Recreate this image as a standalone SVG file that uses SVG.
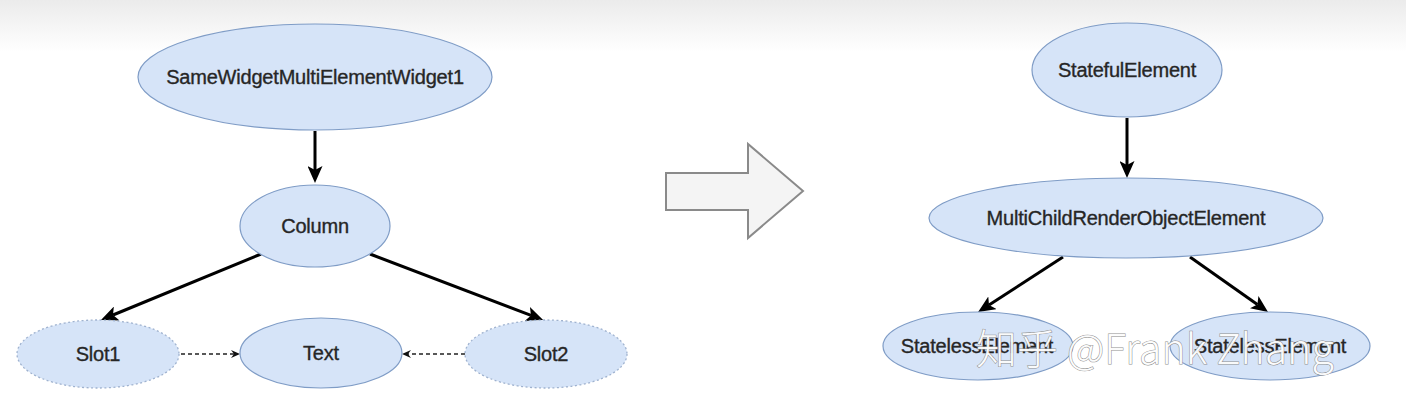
<svg xmlns="http://www.w3.org/2000/svg" width="1406" height="410" viewBox="0 0 1406 410">
  <defs>
    <linearGradient id="topfade" x1="0" y1="0" x2="0" y2="1">
      <stop offset="0" stop-color="#ebebeb"/>
      <stop offset="1" stop-color="#ffffff"/>
    </linearGradient>
    <marker id="ah" viewBox="0 0 17 15" refX="4" refY="7.5" markerWidth="17" markerHeight="15" markerUnits="userSpaceOnUse" orient="auto">
      <path d="M0,0 L17,7.5 L0,15 L4,7.5 Z" fill="#000"/>
    </marker>
    <marker id="ahs" viewBox="0 0 9 8" refX="3" refY="4" markerWidth="9" markerHeight="8" markerUnits="userSpaceOnUse" orient="auto">
      <path d="M0,0 L9,4 L0,8 L3,4 Z" fill="#111"/>
    </marker>
  </defs>
  <style>
    .node { fill: #d6e4f8; stroke: #7f9cc6; stroke-width: 1.2; }
    .slot { fill: #d6e4f8; stroke: #9fb2cf; stroke-width: 1.3; stroke-dasharray: 2 2.5; }
    .lbl { font-family: "Liberation Sans", Arial, sans-serif; font-size: 20px; fill: #262626; stroke: #262626; stroke-width: 0.35; text-anchor: middle; letter-spacing: -0.2px; }
    .edge { stroke: #000; stroke-width: 3; fill: none; marker-end: url(#ah); }
    .dedge { stroke: #222; stroke-width: 1.3; fill: none; stroke-dasharray: 4 3; marker-end: url(#ahs); }
    .wm { font-family: "Noto Sans CJK SC", "Noto Sans", sans-serif; font-size: 41px; font-weight: 300; fill: #ffffff; fill-opacity: 0.95; stroke: #8f8f8f; stroke-width: 1; paint-order: stroke; }
  </style>

  <rect x="0" y="0" width="1406" height="410" fill="#ffffff"/>
  <rect x="0" y="0" width="1406" height="52" fill="url(#topfade)"/>

  <g id="connectors">
    <line class="edge" x1="315" y1="131" x2="315" y2="170"/>
    <line class="edge" x1="261" y1="254" x2="113" y2="315"/>
    <line class="edge" x1="370" y1="254" x2="531" y2="315.4"/>
    <line class="dedge" x1="181" y1="354" x2="234" y2="354"/>
    <line class="dedge" x1="465" y1="354" x2="408" y2="354"/>
    <line class="edge" x1="1127" y1="118" x2="1127" y2="165"/>
    <line class="edge" x1="1063" y1="257" x2="989" y2="305"/>
    <line class="edge" x1="1190" y1="257" x2="1257.4" y2="304.5"/>
  </g>

  <g id="transform-arrow">
    <polygon points="666,173 748,173 748,144 803,191 748,238 748,210 666,210" fill="#f4f4f4" stroke="#8a8a8a" stroke-width="2" stroke-linejoin="miter"/>
  </g>

  <g id="node-samewidget">
    <ellipse class="node" cx="315" cy="77" rx="177" ry="53"/>
    <text class="lbl" x="315" y="84">SameWidgetMultiElementWidget1</text>
  </g>
  <g id="node-column">
    <ellipse class="node" cx="315" cy="226" rx="75" ry="41"/>
    <text class="lbl" x="315" y="233">Column</text>
  </g>
  <g id="node-slot1">
    <ellipse class="slot" cx="98" cy="354" rx="81" ry="34"/>
    <text class="lbl" x="98" y="361">Slot1</text>
  </g>
  <g id="node-text">
    <ellipse class="node" cx="321" cy="353" rx="81" ry="35"/>
    <text class="lbl" x="321" y="360">Text</text>
  </g>
  <g id="node-slot2">
    <ellipse class="slot" cx="546" cy="354" rx="81" ry="34"/>
    <text class="lbl" x="546" y="361">Slot2</text>
  </g>

  <g id="node-stateful">
    <ellipse class="node" cx="1127" cy="70" rx="95" ry="47"/>
    <text class="lbl" x="1127" y="77">StatefulElement</text>
  </g>
  <g id="node-multichild">
    <ellipse class="node" cx="1126" cy="218" rx="197" ry="40"/>
    <text class="lbl" x="1126" y="225">MultiChildRenderObjectElement</text>
  </g>
  <g id="node-stateless1">
    <ellipse class="node" cx="978" cy="346" rx="95" ry="34"/>
    <text class="lbl" x="977" y="353">StatelessElement</text>
  </g>
  <g id="node-stateless2">
    <ellipse class="node" cx="1270" cy="346" rx="100" ry="34"/>
    <text class="lbl" x="1270" y="353">StatelessElement</text>
  </g>

  <text class="wm" x="976" y="364">知乎 @Frank Zhang</text>
</svg>
